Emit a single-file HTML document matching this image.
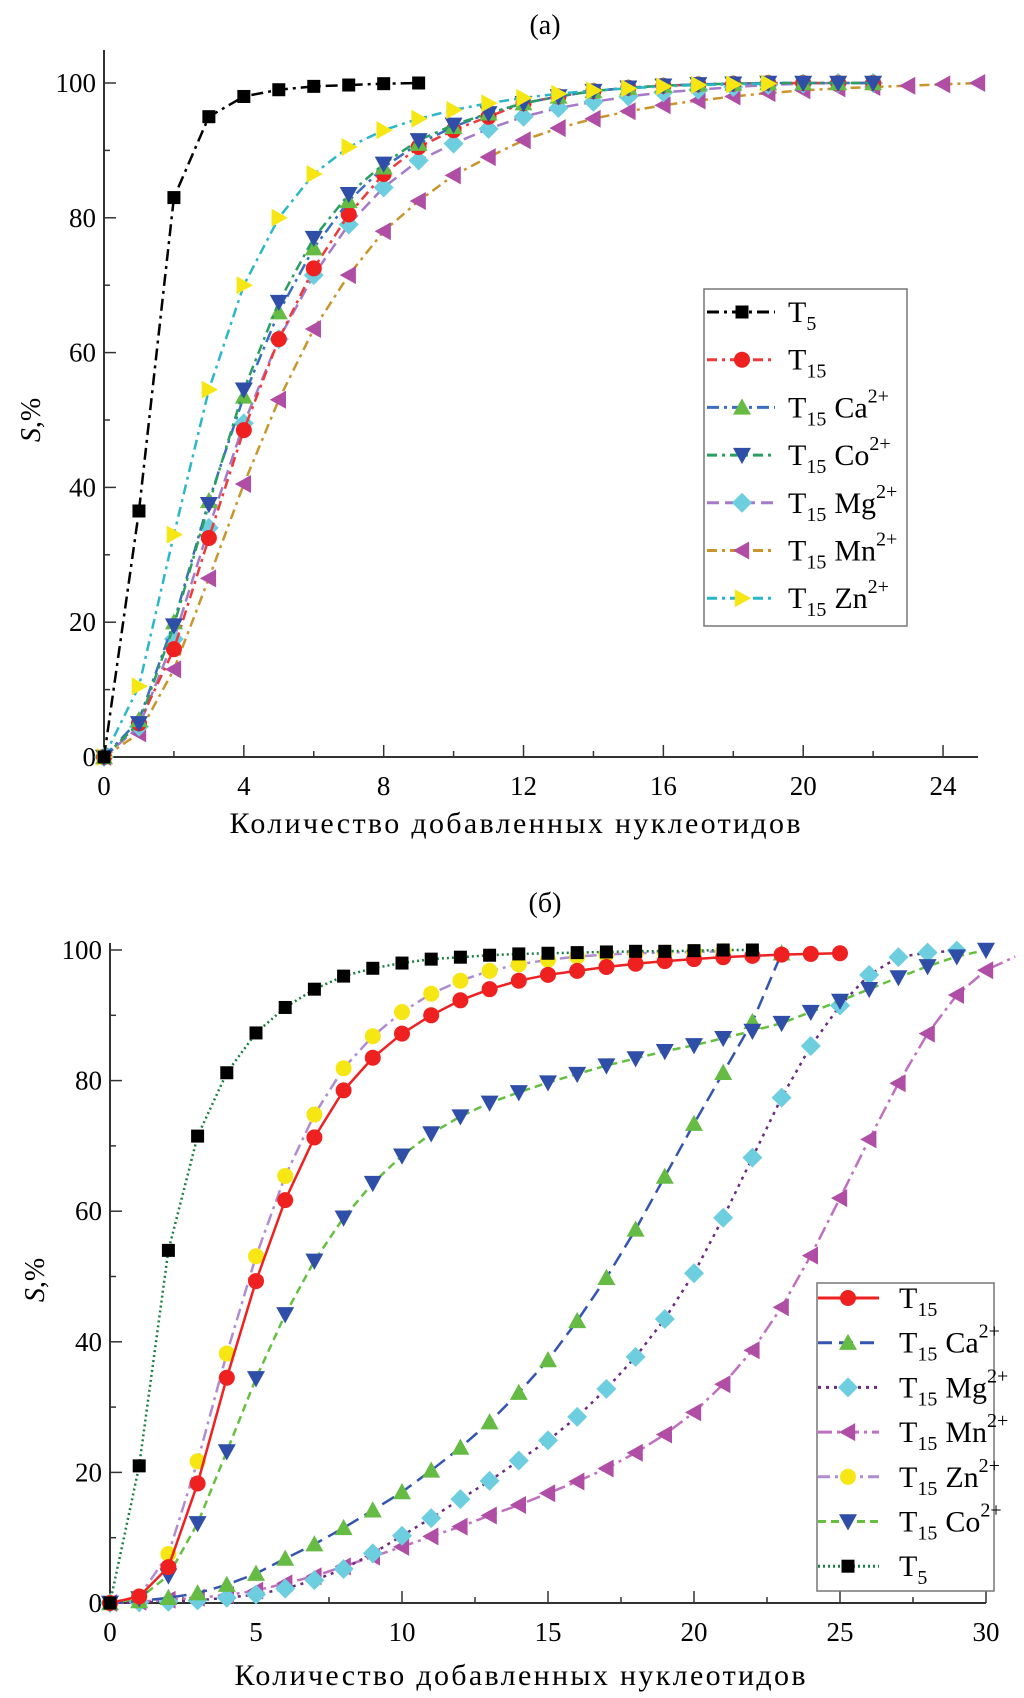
<!DOCTYPE html>
<html><head><meta charset="utf-8"><style>
body{margin:0;background:#fff}
svg, svg text{font-family:"Liberation Serif","Times New Roman","DejaVu Serif",serif}
</style></head><body>
<svg id="fig" width="1024" height="1693" viewBox="0 0 1024 1693" xmlns="http://www.w3.org/2000/svg" font-family="Liberation Serif, Times New Roman, DejaVu Serif, serif">
<text x="545" y="34" font-size="28" text-anchor="middle" font-family="Liberation Serif, serif">(a)</text>
<text x="545" y="912" font-size="28" text-anchor="middle" font-family="Liberation Serif, serif">(б)</text>
<text x="515" y="833" font-size="30" text-anchor="middle" textLength="571" font-family="Liberation Serif, serif">Количество добавленных нуклеотидов</text>
<text x="520" y="1685" font-size="30" text-anchor="middle" textLength="571" font-family="Liberation Serif, serif">Количество добавленных нуклеотидов</text>
<text transform="translate(40,420) rotate(-90)" font-size="28" text-anchor="middle" font-family="Liberation Serif, serif"><tspan font-style="italic">S</tspan>,%</text>
<text transform="translate(44,1280) rotate(-90)" font-size="28" text-anchor="middle" font-family="Liberation Serif, serif"><tspan font-style="italic">S</tspan>,%</text>
<g id="ga"></g>
<g id="gb"></g>
</svg>
<script>
// ---- Chart (a) data ----
const aT5 = [0,36.5,83,95,98,99,99.5,99.7,99.9,100];
const aT15 = [0,5,16,32.5,48.5,62,72.5,80.5,86.5,90.5,93,95,97,98,98.8,99.3,99.6,99.8,99.9,100,100,100,100];
const aCa = [0,5.5,20,38,53.5,66,75.5,82.5,87.5,91,93.5,95.5,97,98,98.8,99.3,99.6,99.8,99.9,100,100,100,100];
const aCo = [0,5,19.5,37.5,54.5,67.5,77,83.5,88,91.5,93.8,95.5,97,98,98.8,99.3,99.6,99.8,99.9,100,100,100,100];
const aMg = [0,4.5,17.5,34,49.5,62,71.5,79,84.5,88.5,91,93.2,95,96.3,97.2,98,98.6,99,99.4,99.7,99.9,100,100];
const aMn = [0,3.5,13,26.5,40.5,53,63.5,71.5,78,82.5,86.3,89,91.5,93.3,94.7,95.8,96.7,97.4,98,98.5,98.9,99.2,99.4,99.6,99.8,100];
const aZn = [0,10.5,33,54.5,70,80,86.5,90.5,93,94.7,96,97,97.8,98.4,98.9,99.2,99.5,99.7,99.8,99.9];
const aXTicks = [0,4,8,12,16,20,24];
const aYTicks = [0,20,40,60,80,100];
// ---- Chart (b) data ----
const bT5 = [0,21,54,71.5,81.2,87.3,91.2,94,96,97.2,98,98.6,98.9,99.2,99.4,99.5,99.6,99.7,99.8,99.8,99.9,100,100];
const bT15 = [0,1,5.5,18.3,34.5,49.3,61.7,71.3,78.5,83.5,87.2,90,92.3,94,95.3,96.2,96.8,97.4,97.9,98.3,98.6,98.9,99.1,99.3,99.4,99.5];
const bZn = [0,1,7.5,21.7,38.2,53.1,65.4,74.8,81.9,86.8,90.5,93.3,95.3,96.8,97.8,98.5,99,99.3,99.5,99.6,99.7,99.8];
const bCo = [0,0.7,4.2,12.2,23.2,34.4,44.2,52.4,59,64.3,68.5,71.9,74.5,76.6,78.2,79.7,81,82.3,83.4,84.5,85.4,86.5,87.6,88.8,90.5,92.2,94,95.8,97.5,99,100];
const bCa = [0,0.3,0.8,1.5,2.8,4.5,6.8,9,11.5,14.2,17,20.3,23.8,27.7,32.2,37.2,43.2,49.8,57.2,65.3,73.4,81.2,89,99.5];
const bMg = [0,0.1,0.2,0.4,0.8,1.3,2.2,3.5,5.2,7.6,10.3,13,15.9,18.7,21.8,24.9,28.5,32.8,37.7,43.5,50.5,59,68.2,77.4,85.3,91.5,96.2,98.9,99.6,99.9];
const bMn = [0,0.2,0.5,0.8,1.2,1.9,3,4.1,5.6,7.1,8.6,10.2,11.7,13.4,15,16.8,18.6,20.6,23,25.8,29.2,33.5,38.7,45.3,53.2,62,71,79.6,87.2,93.1,96.9,99];
const bXTicks = [0,5,10,15,20,25,30];
const bYTicks = [0,20,40,60,80,100];

const NS = "http://www.w3.org/2000/svg";
const FF = "Liberation Serif, Times New Roman, serif";
function mk(tag, attrs, parent){ const e=document.createElementNS(NS,tag); for(const k in attrs) e.setAttribute(k,attrs[k]); if(tag==='text') e.setAttribute('font-family',FF); if(parent) parent.appendChild(e); return e; }

function marker(g, shape, cx, cy, fill, s){
  let e;
  if(shape==='sq') e=mk('rect',{x:cx-s,y:cy-s,width:2*s,height:2*s,fill:fill},g);
  else if(shape==='ci') e=mk('circle',{cx:cx,cy:cy,r:s+1,fill:fill},g);
  else {
    let p;
    const r=s+2;
    if(shape==='up') p=[[cx,cy-r],[cx+r,cy+r*0.8],[cx-r,cy+r*0.8]];
    if(shape==='dn') p=[[cx,cy+r],[cx+r,cy-r*0.8],[cx-r,cy-r*0.8]];
    if(shape==='lt') p=[[cx-r,cy],[cx+r*0.8,cy-r],[cx+r*0.8,cy+r]];
    if(shape==='rt') p=[[cx+r,cy],[cx-r*0.8,cy-r],[cx-r*0.8,cy+r]];
    if(shape==='di') p=[[cx,cy-r-1],[cx+r+1,cy],[cx,cy+r+1],[cx-r-1,cy]];
    e=mk('polygon',{points:p.map(q=>q.join(',')).join(' '),fill:fill},g);
  }
  return e;
}

function chart(g, cfg){
  const X=v=>cfg.x0+v*cfg.xs, Y=v=>cfg.y0-v*cfg.ys;
  const ax=mk('line',{x1:cfg.x0,y1:cfg.yTop,x2:cfg.x0,y2:cfg.y0,stroke:'#333','stroke-width':2},g);
   
  const bx=mk('line',{x1:cfg.x0,y1:cfg.y0,x2:cfg.xEnd,y2:cfg.y0,stroke:'#333','stroke-width':2},g);
   
  cfg.xt.forEach((v,i)=>{
    mk('line',{x1:X(v),y1:cfg.y0,x2:X(v),y2:cfg.y0-12,stroke:'#333','stroke-width':1.5},g);
    const m=v+(cfg.xt[1]-cfg.xt[0])/2; if(X(m)<=cfg.xEnd+1) mk('line',{x1:X(m),y1:cfg.y0,x2:X(m),y2:cfg.y0-6,stroke:'#333','stroke-width':1.5},g);
    const t=mk('text',{x:X(v),y:cfg.y0+38,'font-size':27,'text-anchor':'middle'},g); t.textContent=v;
     
  });
  cfg.yt.forEach((v,i)=>{
    mk('line',{x1:cfg.x0,y1:Y(v),x2:cfg.x0+12,y2:Y(v),stroke:'#333','stroke-width':1.5},g);
    if(i<cfg.yt.length-1) mk('line',{x1:cfg.x0,y1:Y(v+10),x2:cfg.x0+6,y2:Y(v+10),stroke:'#333','stroke-width':1.5},g);
    const t=mk('text',{x:cfg.x0-8,y:Y(v)+9,'font-size':27,'text-anchor':'end'},g); t.textContent=v;
     
  });
  cfg.series.forEach(s=>{
    const sg=mk('g',{},g);
     
    const pts=s.d.map((v,i)=>X(i)+','+Y(v)).join(' ');
    mk('polyline',{points:pts,fill:'none',stroke:s.lc,'stroke-width':2.5,'stroke-dasharray':s.dash},sg);
    s.d.forEach((v,i)=>{ if(X(i)<=cfg.xEnd+2){ const m=marker(sg,s.sh,X(i),Y(v),s.mc,s.sz||7);
        }});
  });
  const L=cfg.leg;
  const lg=mk('g',{},g);
   
  mk('rect',{x:L.x,y:L.y,width:L.w,height:L.h,fill:'#fff',stroke:'#777','stroke-width':1.5},lg);
  cfg.legOrder.forEach((id,k)=>{
    const s=cfg.series.find(q=>q.id===id);
    const cy=L.r0+k*L.dr;
    const eg=mk('g',{},lg);
     
    mk('line',{x1:L.lx1,y1:cy,x2:L.lx2,y2:cy,stroke:s.lc,'stroke-width':3,'stroke-dasharray':s.dash},eg);
    marker(eg,s.sh,L.mx,cy,s.mc,s.sz||7);
    const t=mk('text',{x:L.tx,y:cy+10,'font-size':30},eg);
    const a=mk('tspan',{},t); a.textContent='T';
    const b=mk('tspan',{'font-size':20,dy:8},t); b.textContent=s.sub;
    if(s.ion){ const c=mk('tspan',{dy:-8,dx:8},t); c.textContent=s.ion;
      const d=mk('tspan',{'font-size':20,dy:-15},t); d.textContent='2+'; }
  });
}

chart(document.getElementById('ga'),{
  x0:104,xs:34.96,xEnd:978,y0:757,ys:6.74,yTop:50,xt:aXTicks,yt:aYTicks,
  series:[
    {id:'t15-mn',d:aMn,lc:'#c8962a',mc:'#b04ea6',sh:'lt',dash:'10,5,3,5',sub:'15',ion:'Mn'},
    {id:'t15-mg',d:aMg,lc:'#a57ac8',mc:'#6ccede',sh:'di',dash:'12,6',sub:'15',ion:'Mg'},
    {id:'t15',d:aT15,lc:'#ee3a3a',mc:'#ee2020',sh:'ci',dash:'10,5,3,5',sub:'15',ion:''},
    {id:'t15-ca',d:aCa,lc:'#3a6ec0',mc:'#66bb44',sh:'up',dash:'12,5,3,5',sub:'15',ion:'Ca'},
    {id:'t15-co',d:aCo,lc:'#2aa060',mc:'#2f4ea8',sh:'dn',dash:'10,5,3,5',sub:'15',ion:'Co'},
    {id:'t15-zn',d:aZn,lc:'#2ab8c8',mc:'#f5e614',sh:'rt',dash:'10,5,3,5',sub:'15',ion:'Zn'},
    {id:'t5',d:aT5,lc:'#000',mc:'#000',sh:'sq',dash:'12,5,3,5',sub:'5',ion:'',sz:6.5}
  ],
  legOrder:['t5','t15','t15-ca','t15-co','t15-mg','t15-mn','t15-zn'],
  leg:{x:704,y:289,w:203,h:337,r0:312,dr:47.7,lx1:707,lx2:775,mx:742,tx:788}
});

chart(document.getElementById('gb'),{
  x0:110,xs:29.2,xEnd:986,y0:1603,ys:6.53,yTop:943,xt:bXTicks,yt:bYTicks,
  series:[
    {id:'t15-mn',d:bMn,lc:'#c070c0',mc:'#b04ea6',sh:'lt',dash:'14,5,3,5',sub:'15',ion:'Mn'},
    {id:'t15-mg',d:bMg,lc:'#6a2a80',mc:'#6ccede',sh:'di',dash:'3,5',sub:'15',ion:'Mg'},
    {id:'t15-ca',d:bCa,lc:'#3454b0',mc:'#66bb44',sh:'up',dash:'14,7',sub:'15',ion:'Ca'},
    {id:'t15-co',d:bCo,lc:'#66c040',mc:'#2f4ea8',sh:'dn',dash:'8,5',sub:'15',ion:'Co'},
    {id:'t15-zn',d:bZn,lc:'#b08cd0',mc:'#f5e614',sh:'ci',dash:'12,5,3,5',sub:'15',ion:'Zn'},
    {id:'t15',d:bT15,lc:'#ee2020',mc:'#ee2020',sh:'ci',dash:'none',sub:'15',ion:''},
    {id:'t5',d:bT5,lc:'#1a8040',mc:'#000',sh:'sq',dash:'2,3',sub:'5',ion:'',sz:6.5}
  ],
  legOrder:['t15','t15-ca','t15-mg','t15-mn','t15-zn','t15-co','t5'],
  leg:{x:817,y:1283,w:177,h:308,r0:1298,dr:44.7,lx1:818,lx2:879,mx:848,tx:899}
});
</script>
</body></html>
